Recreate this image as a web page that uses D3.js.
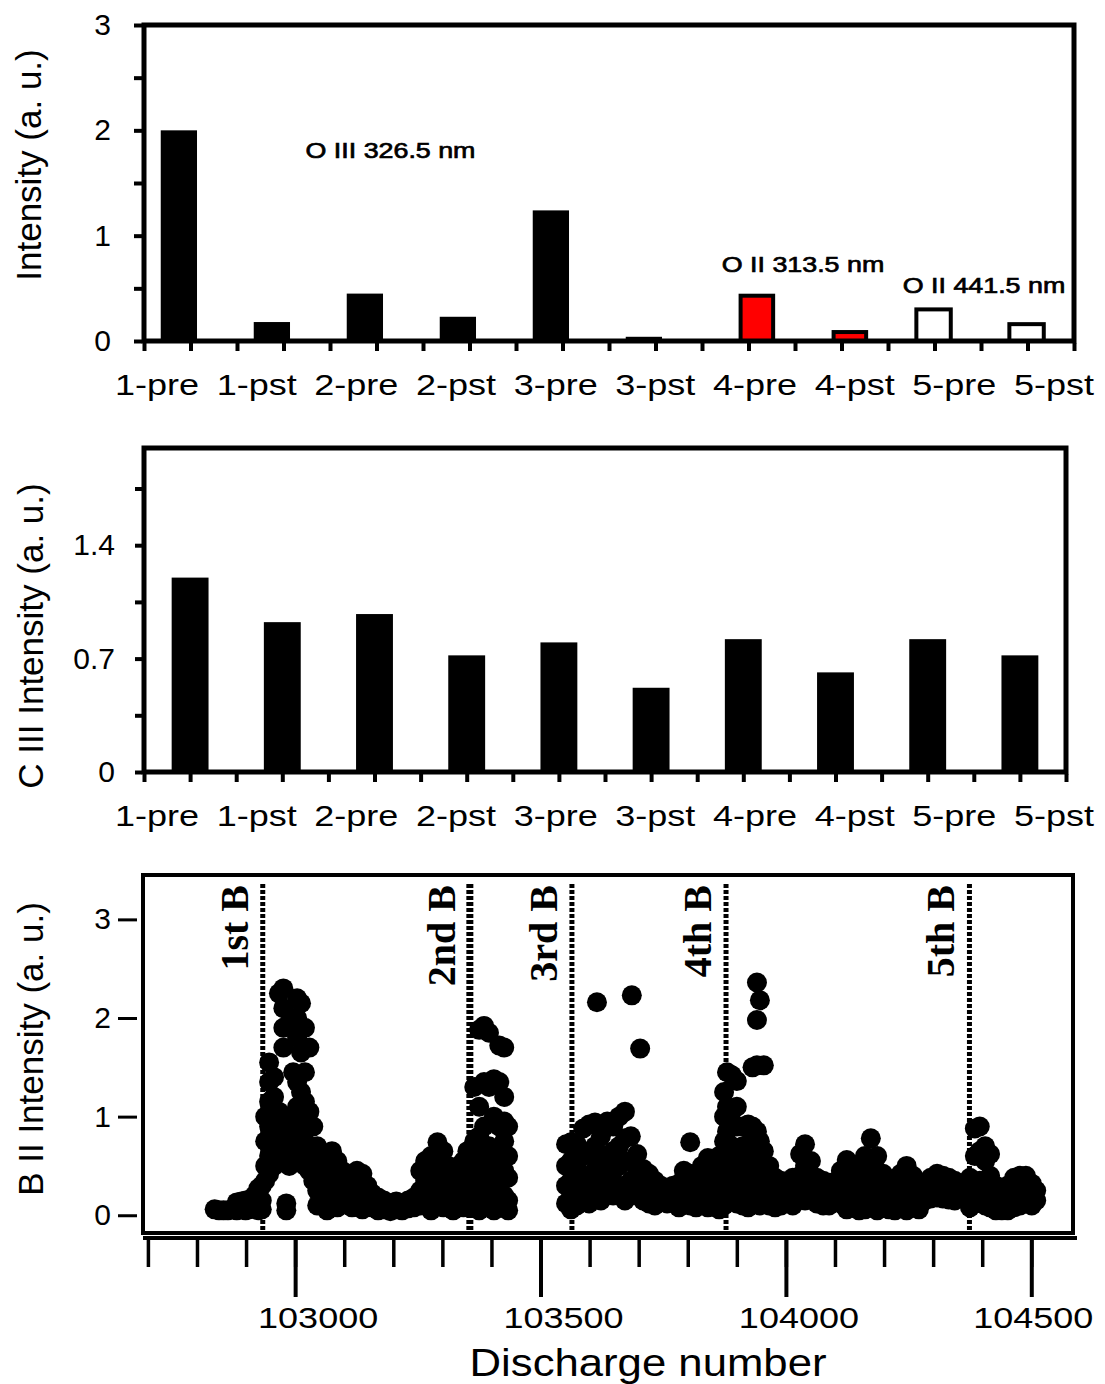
<!DOCTYPE html>
<html>
<head>
<meta charset="utf-8">
<title>O III / C III / B II intensities</title>
<script src="https://d3js.org/d3.v7.min.js"></script>
<style>
  body { margin: 0; background: #fff; }
  svg text { font-family: "Liberation Sans", Arial, sans-serif; fill: #000; }
  svg text.serif { font-family: "Liberation Serif", "Times New Roman", serif; font-weight: bold; }
</style>
</head>
<body>
<script>
// shot labels used by the two bar panels
var shots = ["1-pre", "1-pst", "2-pre", "2-pst", "3-pre", "3-pst", "4-pre", "4-pst", "5-pre", "5-pst"];

// top panel, one array per line
var oIIIShots = ["1-pre", "1-pst", "2-pre", "2-pst", "3-pre", "3-pst"];
var oIIIValues = [2.0, 0.18, 0.45, 0.23, 1.24, 0.04];
var oII313Shots = ["4-pre", "4-pst"];
var oII313Values = [0.43, 0.085];
var oII441Shots = ["5-pre", "5-pst"];
var oII441Values = [0.30, 0.16];
var oTicks = [0, 0.5, 1, 1.5, 2, 2.5, 3];

// middle panel
var cIIIValues = [1.2, 0.925, 0.975, 0.72, 0.80, 0.52, 0.82, 0.615, 0.82, 0.72];
var cTicks = [0, 0.35, 0.7, 1.05, 1.4, 1.75];
var cLabels = [0, 0.7, 1.4];

// bottom panel: [discharge, [B II intensities at that discharge]]
var bIIColumns = [
  [102836, [0.06]], [102845, [0.05]], [102854, [0.05]], [102863, [0.05]], [102872, [0.06]],
  [102881, [0.13, 0.05]], [102890, [0.14, 0.06]], [102899, [0.15, 0.05]], [102908, [0.16, 0.06]],
  [102917, [0.2, 0.08]], [102925, [0.27, 0.14, 0.05]], [102932, [0.3, 0.15, 0.06]],
  [102939, [1.0, 0.75, 0.5, 0.35]],
  [102947, [1.55, 1.35, 1.15, 0.9, 0.6, 0.42]],
  [102957, [1.4, 1.2, 0.95, 0.7, 0.5]],
  [102967, [2.25, 1.05, 0.8, 0.55]],
  [102976, [2.3, 2.1, 1.9, 1.7, 0.9, 0.6]],
  [102982, [0.12, 0.05]],
  [102988, [1.95, 1.0, 0.75, 0.5]],
  [102996, [1.45, 0.95, 0.65]],
  [103004, [2.2, 2.0, 1.8, 1.35, 1.1, 0.8, 0.55]],
  [103012, [2.15, 1.65, 1.25, 0.9, 0.6]],
  [103020, [1.9, 1.45, 1.15, 0.85, 0.5]],
  [103029, [1.7, 1.05, 0.7, 0.45]],
  [103037, [0.9, 0.55, 0.35]],
  [103045, [0.7, 0.45, 0.25, 0.1]], [103055, [0.55, 0.3, 0.1]], [103065, [0.45, 0.2, 0.05]],
  [103075, [0.65, 0.4, 0.15]], [103086, [0.55, 0.3, 0.08]], [103096, [0.45, 0.2]],
  [103106, [0.35, 0.12]], [103116, [0.42, 0.25, 0.08]], [103126, [0.45, 0.3, 0.15]],
  [103137, [0.42, 0.2, 0.06]], [103147, [0.3, 0.12]], [103157, [0.22, 0.08]],
  [103169, [0.18, 0.05]], [103181, [0.15, 0.06]], [103194, [0.12, 0.04]],
  [103206, [0.14, 0.06]], [103218, [0.1, 0.05]], [103230, [0.15, 0.07]], [103242, [0.18, 0.08]],
  [103255, [0.45, 0.25, 0.1]], [103265, [0.55, 0.35, 0.15]], [103277, [0.6, 0.4, 0.2, 0.05]],
  [103290, [0.74, 0.5, 0.3, 0.1]], [103302, [0.65, 0.45, 0.25, 0.08]], [103312, [0.5, 0.3, 0.12]],
  [103322, [0.35, 0.2, 0.05]], [103333, [0.5, 0.3, 0.12]], [103343, [0.55, 0.38, 0.2, 0.08]],
  [103351, [0.65, 0.45, 0.25, 0.1]],
  [103365, [1.3, 0.75, 0.55, 0.35, 0.15]],
  [103375, [1.88, 1.1, 0.8, 0.45, 0.2, 0.05]],
  [103385, [1.92, 1.35, 0.9, 0.6, 0.3, 0.1]],
  [103395, [1.85, 1.3, 0.7, 0.4, 0.15]],
  [103405, [1.38, 1.0, 0.5, 0.25, 0.05]],
  [103416, [1.72, 1.35, 0.9, 0.65, 0.35, 0.1]],
  [103426, [1.7, 1.2, 0.95, 0.75, 0.45, 0.2]],
  [103434, [0.9, 0.6, 0.38, 0.15, 0.05]],
  [103552, [0.72, 0.5, 0.3, 0.12]], [103562, [0.74, 0.55, 0.35, 0.18, 0.06]],
  [103574, [0.72, 0.5, 0.3, 0.1]], [103587, [0.88, 0.6, 0.4, 0.2]],
  [103599, [0.92, 0.62, 0.3, 0.12]], [103611, [0.94, 0.7, 0.45, 0.22]],
  [103615, [2.16]],
  [103623, [0.8, 0.55, 0.35, 0.15]], [103636, [0.95, 0.6, 0.4, 0.25]],
  [103648, [0.9, 0.65, 0.45, 0.2]], [103660, [1.0, 0.7, 0.5, 0.3]],
  [103672, [1.05, 0.78, 0.55, 0.3, 0.15]], [103684, [0.8, 0.55, 0.35, 0.2]],
  [103686, [2.23]], [103703, [1.69]],
  [103697, [0.62, 0.45, 0.25]], [103709, [0.47, 0.3, 0.15]], [103721, [0.42, 0.25, 0.12]],
  [103733, [0.35, 0.2, 0.1]], [103745, [0.3, 0.15]], [103758, [0.28, 0.12]],
  [103770, [0.3, 0.15]], [103782, [0.32, 0.18, 0.08]], [103792, [0.45, 0.25, 0.12]],
  [103805, [0.74, 0.42, 0.2, 0.1]], [103817, [0.38, 0.2, 0.08]], [103829, [0.5, 0.3, 0.15]],
  [103841, [0.58, 0.35, 0.2, 0.08]], [103853, [0.5, 0.3, 0.12]], [103864, [0.6, 0.4, 0.2, 0.06]],
  [103874, [1.25, 1.0, 0.75, 0.5, 0.3, 0.1]],
  [103880, [1.45, 1.1, 0.85, 0.6, 0.35, 0.15]],
  [103890, [1.42, 0.95, 0.7, 0.45, 0.2]],
  [103900, [1.36, 1.1, 0.9, 0.62, 0.38, 0.12]],
  [103912, [0.9, 0.7, 0.5, 0.3, 0.1]],
  [103923, [0.92, 0.72, 0.5, 0.25, 0.08]],
  [103932, [1.5, 0.9, 0.65, 0.45, 0.2]],
  [103941, [2.36, 1.98, 1.52, 0.85, 0.6, 0.35, 0.15]],
  [103947, [2.18, 0.75, 0.5, 0.25, 0.1]],
  [103955, [1.52, 0.65, 0.4, 0.15]],
  [103966, [0.5, 0.3, 0.1]], [103978, [0.38, 0.2, 0.08]], [103990, [0.35, 0.2, 0.1]],
  [104002, [0.32, 0.15]], [104014, [0.38, 0.22, 0.1]],
  [104029, [0.62, 0.4, 0.2]], [104039, [0.72, 0.5, 0.3, 0.15]], [104051, [0.55, 0.35, 0.2]],
  [104063, [0.38, 0.25, 0.12]], [104076, [0.35, 0.22, 0.1]], [104088, [0.33, 0.2, 0.1]],
  [104100, [0.34, 0.18]], [104112, [0.45, 0.3, 0.12]], [104124, [0.56, 0.35, 0.2, 0.06]],
  [104137, [0.45, 0.3, 0.12]], [104149, [0.5, 0.32, 0.15, 0.05]], [104161, [0.6, 0.38, 0.2, 0.06]],
  [104173, [0.78, 0.52, 0.3, 0.1]], [104186, [0.6, 0.4, 0.2, 0.05]], [104198, [0.42, 0.25, 0.1]],
  [104210, [0.33, 0.18, 0.06]], [104222, [0.32, 0.15, 0.05]], [104234, [0.42, 0.25, 0.1]],
  [104246, [0.5, 0.3, 0.15, 0.05]], [104259, [0.4, 0.22, 0.08]], [104271, [0.32, 0.18, 0.06]],
  [104283, [0.3, 0.15]], [104295, [0.38, 0.25, 0.17]], [104308, [0.42, 0.28, 0.18]],
  [104320, [0.4, 0.27, 0.17]], [104332, [0.38, 0.25, 0.16]], [104344, [0.35, 0.22, 0.15]],
  [104357, [0.3, 0.18]],
  [104375, [0.38, 0.2, 0.08]], [104385, [0.88, 0.6, 0.3, 0.12]], [104395, [0.9, 0.65, 0.35, 0.15]],
  [104406, [0.7, 0.55, 0.3, 0.1]], [104416, [0.62, 0.4, 0.2, 0.08]], [104428, [0.3, 0.18, 0.05]],
  [104440, [0.28, 0.15, 0.05]], [104452, [0.3, 0.12, 0.05]], [104465, [0.38, 0.2, 0.08]],
  [104477, [0.4, 0.25, 0.1]], [104489, [0.4, 0.25, 0.12]], [104501, [0.32, 0.2, 0.1]],
  [104510, [0.25, 0.15]]
];
var bTicks = [0, 1, 2, 3];
var dischargeMinor = d3.range(102700, 104501, 100);
var dischargeMajor = [103000, 103500, 104000, 104500];

// boronizations
var boronShots = [102934, 103356, 103564, 103878, 104374];
var boronNames = ["1st B", "2nd B", "3rd B", "4th B", "5th B"];

var svg = d3.select("body").append("svg")
  .attr("width", 1105)
  .attr("height", 1384);

// horizontal text, a bit wider than tall like the scanned figure
function hText(g, x, y, str, size, anchor, sx) {
  return g.append("text")
    .attr("transform", "translate(" + x + "," + y + ") scale(" + sx + ",1)")
    .attr("text-anchor", anchor)
    .style("font-size", size + "px")
    .text(str);
}

// text read bottom to top
function vText(g, x, y, str, size, anchor) {
  return g.append("text")
    .attr("transform", "translate(" + x + "," + y + ") rotate(-90)")
    .attr("text-anchor", anchor)
    .style("font-size", size + "px")
    .text(str);
}

function cleanAxis(g, w, size) {
  g.select(".domain").remove();
  g.selectAll(".tick line").attr("stroke", "#000").attr("stroke-width", w);
  g.selectAll(".tick text").style("font-size", size + "px");
}

//========== top: O lines ==========
var p1 = {l: 144, r: 1074, t: 25, b: 341};
var x1 = d3.scaleBand().domain(shots).range([p1.l, p1.r]);
var y1 = d3.scaleLinear().domain([0, 3]).range([p1.b, p1.t]);
var g1 = svg.append("g");

var oSeries = [
  {names: oIIIShots, values: oIIIValues, fill: "#000", stroke: "none", shift: -0.125, w: 0.39},
  {names: oII313Shots, values: oII313Values, fill: "#f00", stroke: "#000", shift: 0.09, w: 0.35},
  {names: oII441Shots, values: oII441Values, fill: "#fff", stroke: "#000", shift: -0.01, w: 0.37}
];
oSeries.forEach(function(s) {
  g1.append("g").selectAll("rect")
    .data(s.values)
    .enter()
    .append("rect")
    .attr("x", function(d, i) { return x1(s.names[i]) + x1.bandwidth() * (0.5 + s.shift - s.w / 2); })
    .attr("width", x1.bandwidth() * s.w)
    .attr("y", function(d) { return y1(d); })
    .attr("height", function(d) { return y1(0) - y1(d); })
    .attr("fill", s.fill)
    .attr("stroke", s.stroke)
    .attr("stroke-width", 4);
});

g1.append("rect")
  .attr("x", p1.l).attr("y", p1.t)
  .attr("width", p1.r - p1.l).attr("height", p1.b - p1.t)
  .attr("fill", "none").attr("stroke", "#000").attr("stroke-width", 5);

g1.append("g")
  .attr("transform", "translate(" + (p1.l - 2) + ",0)")
  .call(d3.axisLeft(y1).tickValues(oTicks).tickSize(8).tickPadding(23)
    .tickFormat(function(d) { return d % 1 === 0 ? d : ""; }))
  .call(cleanAxis, 4, 30);

// ticks at every band edge and centre
var half1 = d3.scaleLinear().domain([0, 20]).range([p1.l, p1.r]);
g1.append("g")
  .attr("transform", "translate(0," + (p1.b + 2) + ")")
  .call(d3.axisBottom(half1).tickValues(d3.range(0, 21)).tickSize(8).tickFormat(""))
  .call(cleanAxis, 4, 10);

var shotLabel = d3.scalePoint().domain(shots).range([p1.l + 13, p1.r - 20]);
shots.forEach(function(s) { hText(g1, shotLabel(s), p1.b + 54, s, 30, "middle", 1.2); });

vText(g1, 41, p1.t + 140, "Intensity (a. u.)", 35, "middle");

var oNotes = [
  {text: "O III 326.5 nm", from: "1-pst", to: "2-pst", v: 1.74, dx: 14},
  {text: "O II 313.5 nm", from: "4-pre", to: "4-pst", v: 0.655, dx: 8},
  {text: "O II 441.5 nm", from: "5-pre", to: "5-pst", v: 0.455, dx: 3}
];
oNotes.forEach(function(n) {
  var cx = (x1(n.from) + x1(n.to)) / 2 + x1.bandwidth() / 2 + n.dx;
  hText(g1, cx, y1(n.v), n.text, 22, "middle", 1.22)
    .attr("stroke", "#000").attr("stroke-width", 0.7);
});

//========== middle: C III ==========
var p2 = {l: 144, r: 1066, t: 448, b: 772};
var x2 = d3.scaleBand().domain(shots).range([p2.l, p2.r]);
var y2 = d3.scaleLinear().domain([0, 2.0]).range([p2.b, p2.t]);
var g2 = svg.append("g");

g2.append("g").selectAll("rect")
  .data(cIIIValues)
  .enter()
  .append("rect")
  .attr("x", function(d, i) { return x2(shots[i]) + x2.bandwidth() * 0.3; })
  .attr("width", x2.bandwidth() * 0.4)
  .attr("y", function(d) { return y2(d); })
  .attr("height", function(d) { return y2(0) - y2(d); })
  .attr("fill", "#000");

g2.append("rect")
  .attr("x", p2.l).attr("y", p2.t)
  .attr("width", p2.r - p2.l).attr("height", p2.b - p2.t)
  .attr("fill", "none").attr("stroke", "#000").attr("stroke-width", 5);

g2.append("g")
  .attr("transform", "translate(" + (p2.l - 2) + ",0)")
  .call(d3.axisLeft(y2).tickValues(cTicks).tickSize(7).tickPadding(20)
    .tickFormat(function(d) { return cLabels.indexOf(d) >= 0 ? d : ""; }))
  .call(cleanAxis, 4, 30);

var half2 = d3.scaleLinear().domain([0, 20]).range([p2.l, p2.r]);
g2.append("g")
  .attr("transform", "translate(0," + (p2.b + 2) + ")")
  .call(d3.axisBottom(half2).tickValues(d3.range(0, 21)).tickSize(8).tickFormat(""))
  .call(cleanAxis, 4, 10);

shots.forEach(function(s) { hText(g2, shotLabel(s), p2.b + 54, s, 30, "middle", 1.2); });

vText(g2, 43, p2.t + 188, "C III Intensity (a. u.)", 35, "middle");

//========== bottom: B II vs discharge ==========
var p3 = {l: 143, r: 1073, t: 875, b: 1233};
var x3 = d3.scaleLinear().domain([102690, 104585]).range([p3.l, p3.r]);
var y3 = d3.scaleLinear().domain([-0.18, 3.45]).range([p3.b, p3.t]);
var g3 = svg.append("g");

var bIIPoints = [];
bIIColumns.forEach(function(c) {
  c[1].forEach(function(v) { bIIPoints.push({n: c[0], v: v}); });
});

g3.append("g").selectAll("circle")
  .data(bIIPoints)
  .enter()
  .append("circle")
  .attr("cx", function(d) { return x3(d.n); })
  .attr("cy", function(d) { return y3(d.v); })
  .attr("r", 10)
  .attr("fill", "#000");

// boronization markers
g3.append("g").selectAll("line")
  .data(boronShots)
  .enter()
  .append("line")
  .attr("x1", function(d) { return x3(d); })
  .attr("x2", function(d) { return x3(d); })
  .attr("y1", y3(3.36))
  .attr("y2", y3(-0.15))
  .attr("stroke", "#000")
  .attr("stroke-width", function(d, i) { return i === 1 ? 7 : 5; })
  .attr("stroke-dasharray", "4 2");

boronShots.forEach(function(d, i) {
  vText(g3, x3(d) - 15, p3.t + 10, boronNames[i], 40, "end").attr("class", "serif");
});

g3.append("rect")
  .attr("x", p3.l).attr("y", p3.t)
  .attr("width", p3.r - p3.l).attr("height", p3.b - p3.t)
  .attr("fill", "none").attr("stroke", "#000").attr("stroke-width", 4);

g3.append("g")
  .attr("transform", "translate(" + (p3.l - 6) + ",0)")
  .call(d3.axisLeft(y3).tickValues(bTicks).tickSize(19).tickPadding(7).tickFormat(d3.format("d")))
  .call(cleanAxis, 3, 30);

// discharge axis sits just under the frame
var xAxis3 = g3.append("g").attr("transform", "translate(0," + (p3.b + 5) + ")");
xAxis3.append("line")
  .attr("x1", p3.l).attr("x2", p3.r + 4)
  .attr("stroke", "#000").attr("stroke-width", 4);
xAxis3.append("g")
  .call(d3.axisBottom(x3).tickValues(dischargeMinor).tickSize(29).tickFormat(""))
  .call(cleanAxis, 3.5, 10);
xAxis3.append("g")
  .call(d3.axisBottom(x3).tickValues(dischargeMajor).tickSize(59).tickFormat(""))
  .call(cleanAxis, 4, 10);
// labels sit a little right of their ticks, less so toward the right end
var majorLabelShift = [23, 23, 13, 2];
dischargeMajor.forEach(function(d, i) {
  hText(g3, x3(d) + majorLabelShift[i], p3.b + 95, d, 30, "middle", 1.2);
});

hText(g3, 648, 1376, "Discharge number", 38, "middle", 1.15);
vText(g3, 43, p3.t + 174, "B II Intensity (a. u.)", 35, "middle");
</script>
</body>
</html>
